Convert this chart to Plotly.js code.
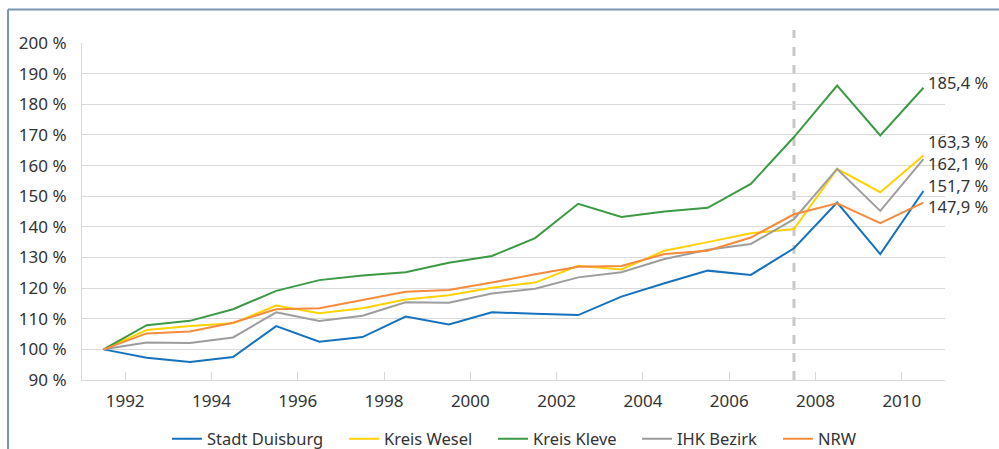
<!DOCTYPE html>
<html><head><meta charset="utf-8">
<script src="https://cdn.plot.ly/plotly-3.0.1.min.js"></script>
<style>html,body{margin:0;padding:0;background:#fff}#chart{width:999px;height:449px}</style>
</head><body><div id="chart"></div>
<script>
const years = [1991,1992,1993,1994,1995,1996,1997,1998,1999,2000,2001,2002,2003,2004,2005,2006,2007,2008,2009,2010];
const duisburg = [100,97.3,95.9,97.5,107.6,102.5,104.0,110.7,108.1,112.1,111.6,111.2,117.2,121.6,125.7,124.3,133.0,147.9,131.1,151.7];
const wesel    = [100,106.3,107.6,108.5,114.3,111.8,113.4,116.3,117.7,120.1,121.8,127.3,126.1,132.2,135.0,137.9,139.3,158.9,151.3,163.3];
const kleve    = [100,107.9,109.3,113.1,119.1,122.6,124.1,125.2,128.3,130.5,136.3,147.5,143.2,145.0,146.2,154.0,169.3,186.1,169.8,185.4];
const ihk      = [100,102.2,102.1,103.9,112.1,109.3,111.0,115.4,115.2,118.2,119.8,123.5,125.2,129.5,132.5,134.4,142.5,158.9,145.2,162.1];
const nrw      = [100,105.2,105.8,108.7,113.1,113.4,116.1,118.8,119.4,121.8,124.5,127.0,127.2,131.1,132.2,136.5,144.1,147.7,141.2,147.9];
const seriesNames = ['Stadt Duisburg','Kreis Wesel','Kreis Kleve','IHK Bezirk','NRW'];
const endLabels = ['151,7 %','163,3 %','185,4 %','162,1 %','147,9 %'];
const tickYears = [1992,1994,1996,1998,2000,2002,2004,2006,2008,2010];
const yTicks = [90,100,110,120,130,140,150,160,170,180,190,200];
const markerYear = 2007;

const colors = ['#1672bd','#ffd200','#3c9a44','#9d9d9d','#f58b3c'];
const values = [duisburg, wesel, kleve, ihk, nrw];
const shifts = [5, 14, 5.5, -4, -3.5];
const legendTextX = [207, 384, 533, 677, 818];

const W=999,H=449,L=82,R=54,T=43,B=69;
const px = x => (x-L)/(W-L-R);
const py = y => (H-B-y)/(H-T-B);
const legendIds = ['legend','legend2','legend3','legend4','legend5'];

const traces = values.map((v,i)=>({
  x: years, y: v, type:'scatter', mode:'lines', name: seriesNames[i],
  line:{color:colors[i], width:2}, legend: legendIds[i]
}));

const annotations = values.map((v,i)=>({
  x: years[years.length-1], y: v[v.length-1], xref:'x', yref:'y',
  text: endLabels[i], showarrow:false, xanchor:'left', yanchor:'middle',
  xshift:3, yshift:shifts[i],
  font:{family:'Noto Sans, sans-serif', size:16.5, color:'#333'}
}));

const layout = {
  width:W, height:H,
  margin:{l:L,r:R,t:T,b:B,autoexpand:false},
  paper_bgcolor:'#fff', plot_bgcolor:'#fff',
  showlegend:true,
  xaxis:{range:[1990.5,2010.5], tickmode:'array',
    tickvals: tickYears.map(y=>y-0.5), ticktext: tickYears.map(String),
    ticks:'inside', ticklen:8, tickcolor:'#d9d9d9', tickwidth:1, ticklabelstandoff:6,
    showgrid:false, zeroline:false, showline:true, linecolor:'#d9d9d9', linewidth:1,
    tickfont:{family:'Noto Sans, sans-serif', size:17, color:'#333'}, fixedrange:true},
  yaxis:{range:[90,200], tickmode:'array', tickvals:yTicks,
    ticktext: yTicks.map(v=>v+' %'),
    showgrid:true, gridcolor:'#d9d9d9', gridwidth:1, zeroline:false,
    showline:true, linecolor:'#d9d9d9', linewidth:1, ticks:'', ticklabelstandoff:11,
    tickfont:{family:'Noto Sans, sans-serif', size:17, color:'#333'}, fixedrange:true},
  annotations: annotations,
  shapes:[
    {type:'line', xref:'x', yref:'paper', x0:markerYear, x1:markerYear, y0:0, y1:py(30),
     line:{color:'#c8c8c8', width:3, dash:'dash'}, layer:'below'},
    {type:'line', xref:'paper', yref:'paper', x0:px(8), x1:px(999), y0:py(9.5), y1:py(9.5),
     line:{color:'#7a96ae', width:2}},
    {type:'line', xref:'paper', yref:'paper', x0:px(8), x1:px(8), y0:py(9.5), y1:py(449),
     line:{color:'#7a96ae', width:2}}
  ]
};
legendIds.forEach((id,i)=>{
  layout[id] = {orientation:'h', x:px(legendTextX[i]-40), xanchor:'left', y:py(439), yanchor:'middle',
    bgcolor:'rgba(0,0,0,0)', borderwidth:0,
    font:{family:'Noto Sans, sans-serif', size:16.5, color:'#333'}};
});
Plotly.newPlot('chart', traces, layout, {displayModeBar:false, staticPlot:true});
</script></body></html>
